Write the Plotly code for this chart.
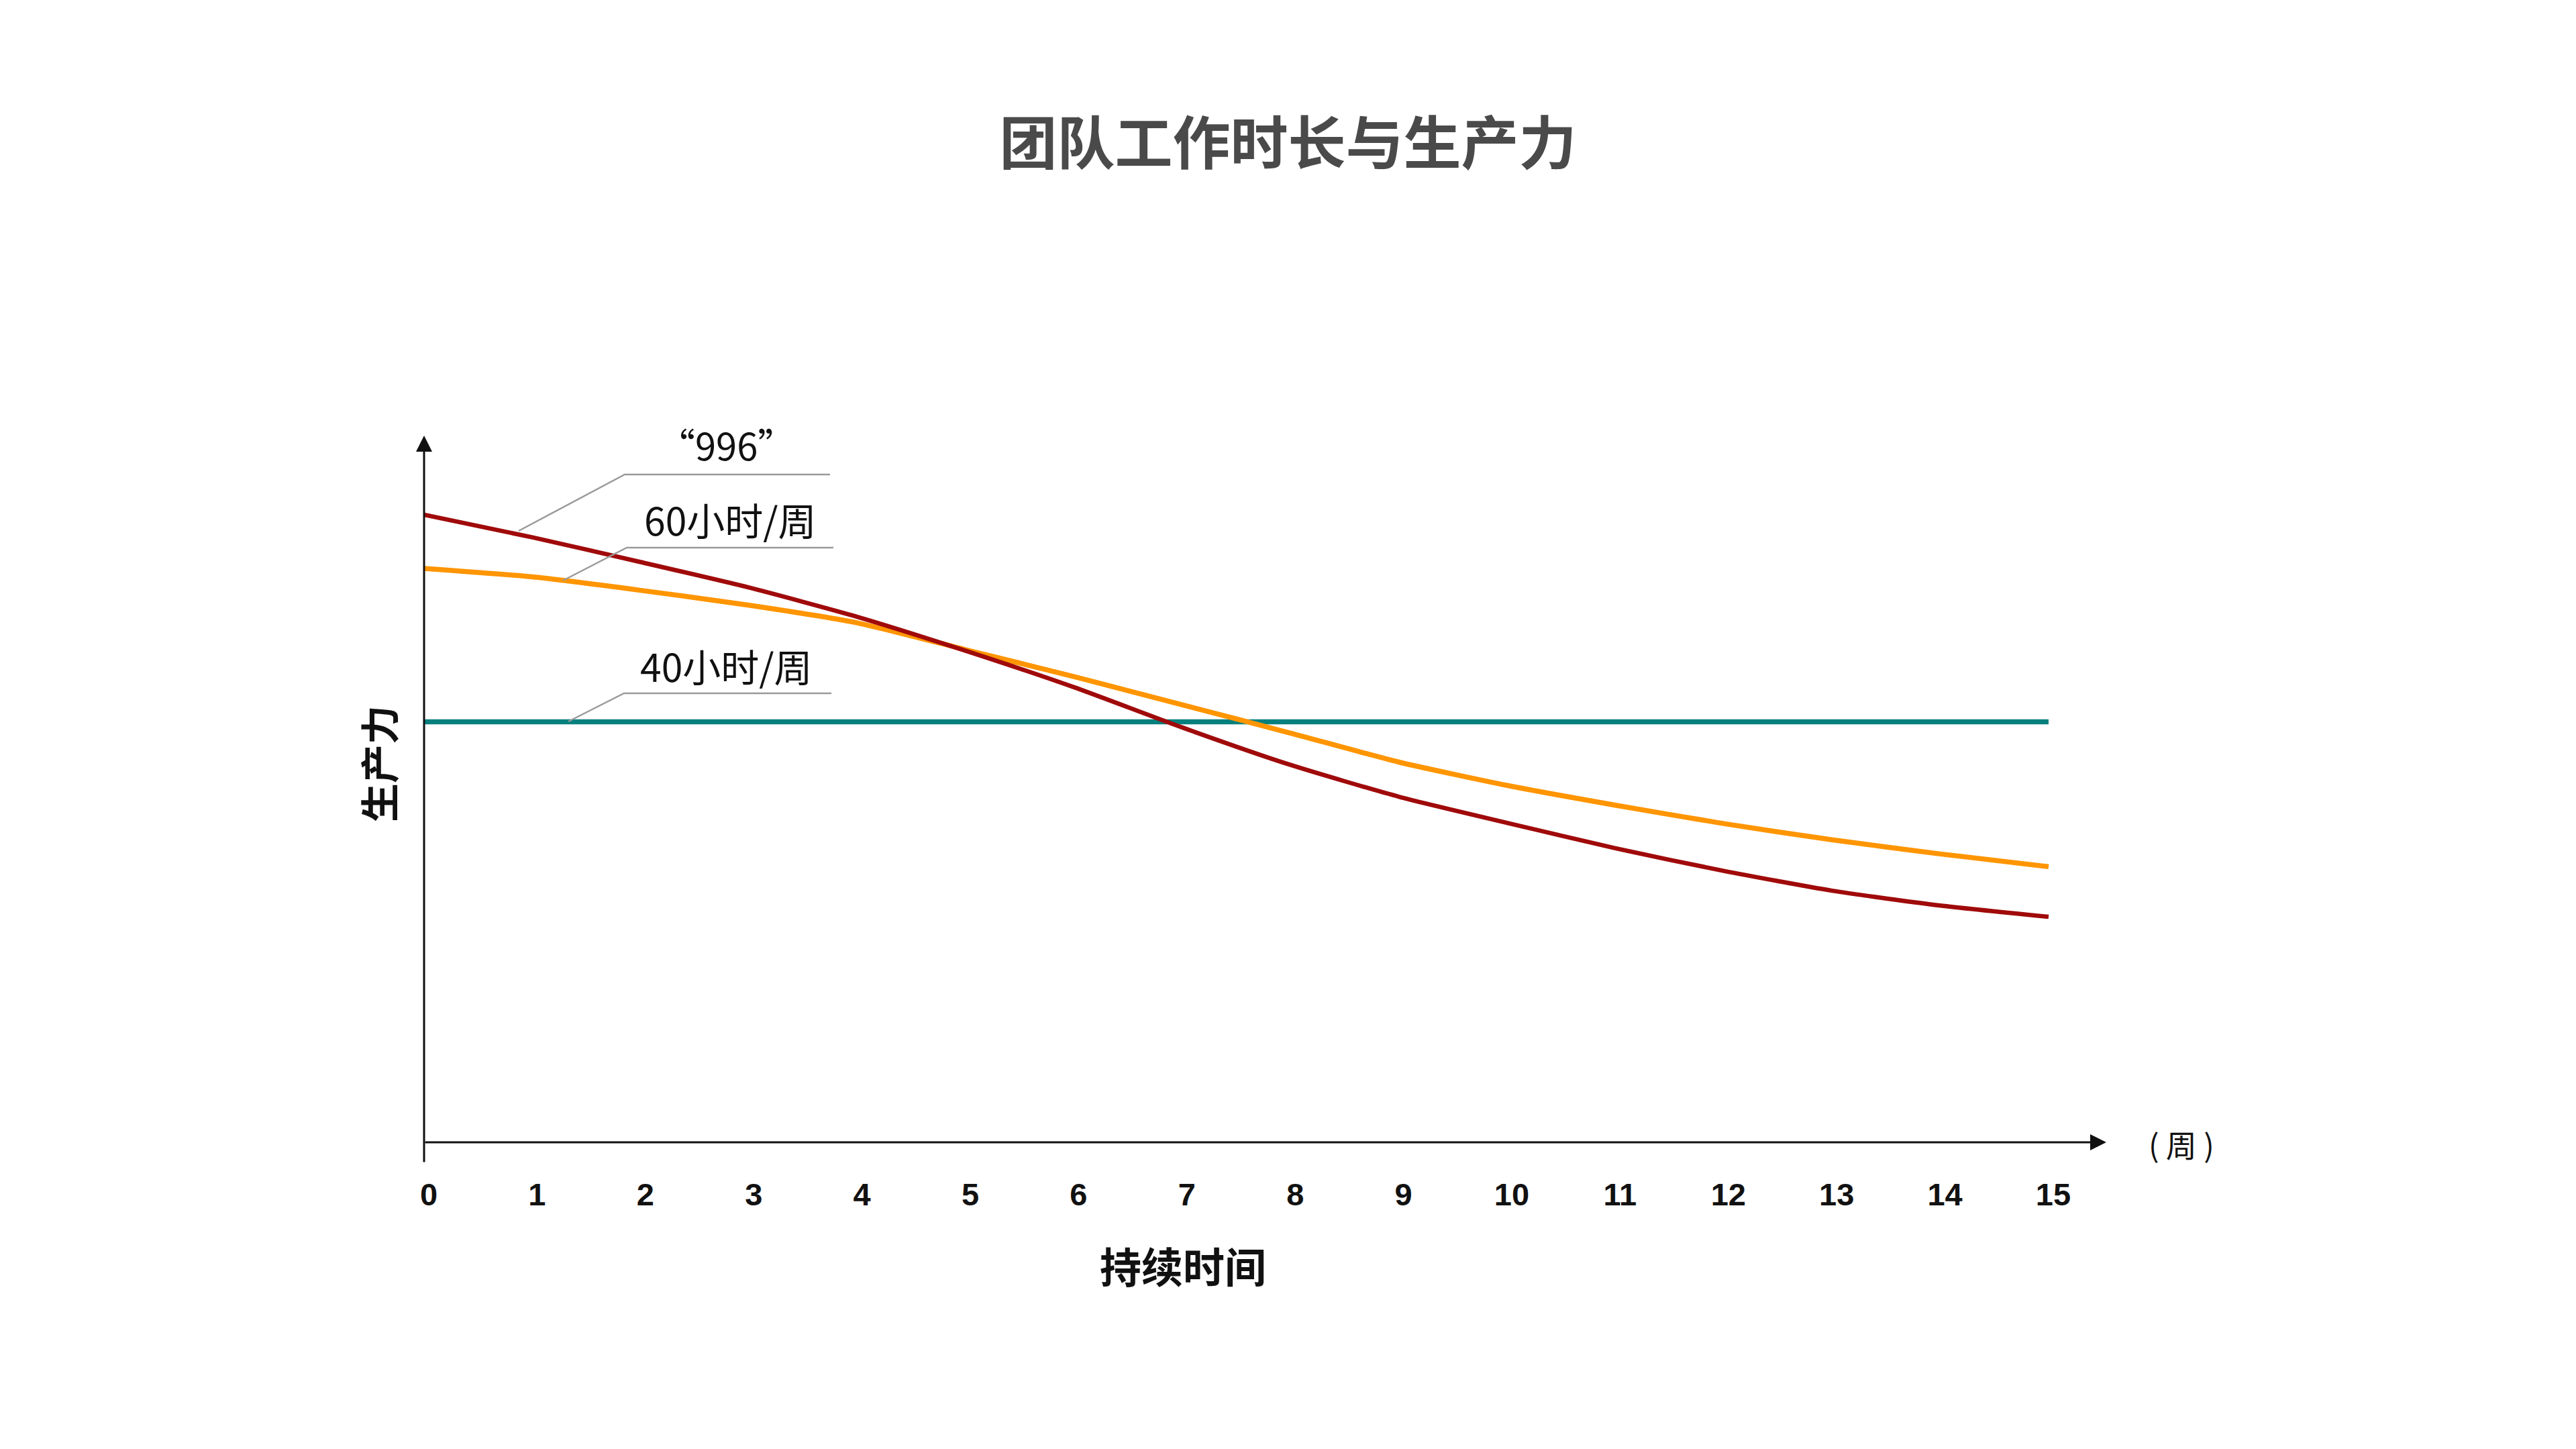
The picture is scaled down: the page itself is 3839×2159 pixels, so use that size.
import plotly.graph_objects as go

# data (productivity index, arbitrary units)
weeks = [0, 1, 2, 3, 4, 5, 6, 7, 8, 9, 10, 11, 12, 13, 14, 15]
hours_996 = [88.8, 85.6, 82.1, 78.5, 74.35, 69.55, 64.4, 58.7, 53.4, 48.9, 45.2, 41.6, 38.4, 35.6, 33.5, 31.9]
hours_60 = [81.2, 80.0, 78.1, 76.0, 73.5, 69.7, 65.9, 61.9, 57.9, 53.8, 50.5, 47.7, 45.1, 42.8, 40.8, 39.0]
hours_40 = [59.5, 59.5, 59.5, 59.5, 59.5, 59.5, 59.5, 59.5, 59.5, 59.5, 59.5, 59.5, 59.5, 59.5, 59.5, 59.5]
tick_labels = [str(w) for w in weeks]

W, H = 3839, 2159
OFF = 8  # default body margin of the html page
LEFT, RIGHT, TOP, BOTTOM = 632, 3139, 649, 1702  # plot area on the screen

CJK = "Noto Sans CJK SC, Liberation Sans, sans-serif"
NUM = "Liberation Sans, Noto Sans CJK SC, sans-serif"


# screen pixel -> paper coords (relative to the plot area)
def px(x):
    return (x - LEFT) / (RIGHT - LEFT)


def py(y):
    return (BOTTOM - y) / (BOTTOM - TOP)


fig = go.Figure()

fig.add_trace(go.Scatter(
    x=weeks, y=hours_40, mode='lines', name='40小时/周',
    line=dict(color='#03807E', width=7.5),
))
fig.add_trace(go.Scatter(
    x=weeks, y=hours_60, mode='lines', name='60小时/周',
    line=dict(color='#FF9500', width=7.5, shape='spline', smoothing=0.6),
))
fig.add_trace(go.Scatter(
    x=weeks, y=hours_996, mode='lines', name='“996”',
    line=dict(color='#A00A0A', width=6.5, shape='spline', smoothing=0.6),
))

annotations = [
    # axis arrows
    dict(x=1, y=0, xref='x domain', yref='y domain', ax=0, ay=0,
         axref='x domain', ayref='y domain', text='', showarrow=True,
         arrowhead=2, arrowsize=1.6, arrowwidth=3, arrowcolor='#111'),
    dict(x=0, y=1, xref='x domain', yref='y domain', ax=0, ay=-31 / (BOTTOM - TOP),
         axref='x domain', ayref='y domain', text='', showarrow=True,
         arrowhead=2, arrowsize=1.6, arrowwidth=3, arrowcolor='#111'),
    # axis titles
    dict(x=px(563), y=py(1138), xref='paper', yref='paper', text='生产力',
         textangle=-90, showarrow=False, xanchor='center', yanchor='middle',
         font=dict(family=CJK, size=58, color='#111', weight='bold')),
    dict(x=px(1763), y=py(1885), xref='paper', yref='paper', text='持续时间',
         showarrow=False, xanchor='center', yanchor='middle',
         font=dict(family=CJK, size=62, color='#111', weight='bold')),
    dict(x=px(3251), y=py(1704), xref='paper', yref='paper', text='( 周 )',
         showarrow=False, xanchor='center', yanchor='middle',
         font=dict(family=CJK, size=46, color='#111')),
    # series labels
    dict(x=px(1082), y=py(661), xref='paper', yref='paper', text='“996”',
         showarrow=False, xanchor='center', yanchor='middle',
         font=dict(family=CJK, size=56, color='#111')),
    dict(x=px(1088), y=py(773), xref='paper', yref='paper', text='60小时/周',
         showarrow=False, xanchor='center', yanchor='middle',
         font=dict(family=CJK, size=57, color='#111')),
    dict(x=px(1082), y=py(991), xref='paper', yref='paper', text='40小时/周',
         showarrow=False, xanchor='center', yanchor='middle',
         font=dict(family=CJK, size=57, color='#111')),
]

# leader lines: curve point -> elbow -> end of underline
leaders = [
    [(773, 791), (931, 707), (1237, 707)],
    [(839, 865), (934, 816), (1242, 816)],
    [(847, 1075), (930, 1033), (1239, 1033)],
]
shapes = []
for pts in leaders:
    path = 'M ' + ' L '.join(f'{px(x):.5f},{py(y):.5f}' for x, y in pts)
    shapes.append(dict(type='path', path=path, xref='paper', yref='paper',
                       line=dict(color='#9a9a9a', width=2.5)))

fig.update_layout(
    width=W - 2 * OFF, height=H - 2 * OFF,
    margin=dict(l=LEFT - OFF, r=W - OFF - RIGHT, t=TOP - OFF, b=H - OFF - BOTTOM, pad=0),
    paper_bgcolor='white', plot_bgcolor='white',
    showlegend=False,
    title=dict(text='团队工作时长与生产力', x=0.5, xanchor='center',
               y=1 - (215 - OFF) / (H - 2 * OFF), yanchor='middle',
               font=dict(family=CJK, size=86, color='#4a4a4a', weight='bold')),
    xaxis=dict(range=[0, (RIGHT - LEFT) / 161.4], tickvals=weeks, ticktext=tick_labels,
               showgrid=False, zeroline=False, showline=False, ticks='',
               ticklabelstandoff=46, ticklabelshift=7,
               tickfont=dict(family=NUM, size=47, color='#111', weight='bold')),
    yaxis=dict(range=[0, 100], showticklabels=False, showgrid=False,
               zeroline=False, showline=False, ticks=''),
    annotations=annotations,
    shapes=shapes,
)

fig.write_html("out.html")
